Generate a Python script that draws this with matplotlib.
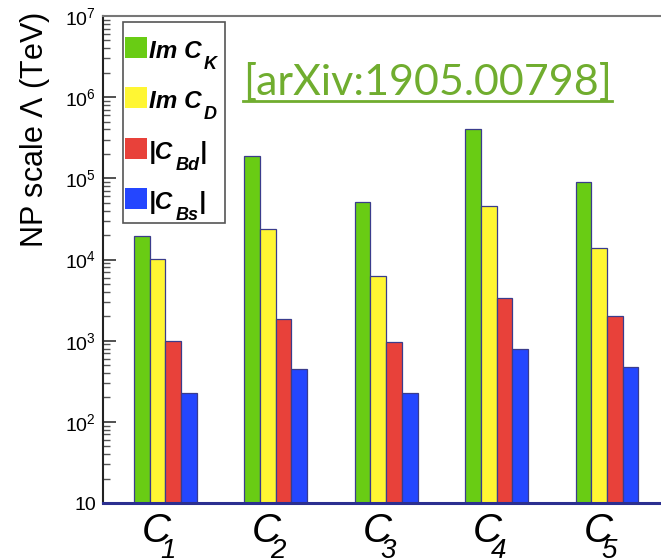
import matplotlib
matplotlib.use("Agg")
import matplotlib.pyplot as plt
import numpy as np
from matplotlib.patches import Rectangle
from matplotlib.lines import Line2D

plt.rcParams["font.family"] = ["Liberation Sans", "DejaVu Sans"]
plt.rcParams["mathtext.fontset"] = "custom"
plt.rcParams["mathtext.rm"] = "Liberation Sans"
plt.rcParams["mathtext.it"] = "Liberation Sans:italic"

# Operators and bounds on the new-physics scale (TeV)
operators = ["1", "2", "3", "4", "5"]
im_ck = [1.94e4, 1.89e5, 5.1e4, 4.0e5, 8.9e4]
im_cd = [1.02e4, 2.35e4, 6.2e3, 4.55e4, 1.37e4]
abs_cbd = [1.0e3, 1.85e3, 9.6e2, 3.4e3, 2.03e3]
abs_cbs = [2.24e2, 4.43e2, 2.28e2, 7.8e2, 4.73e2]

# legend labels: (main text, subscript, closing text)
series_labels = [("Im C", "K", ""), ("Im C", "D", ""),
                 ("|C", "Bd", "|"), ("|C", "Bs", "|")]
colors = ["#69cc14", "#fff633", "#e8413a", "#2446ff"]
edge = "#3a3c8c"

W, H = 661, 559
AX_L, AX_B, AX_W, AX_H = 103, 56, 565, 487   # axes box in pixels
fig = plt.figure(figsize=(W / 100, H / 100), dpi=100)
ax = fig.add_axes([AX_L / W, AX_B / H, AX_W / W, AX_H / H])


def px_to_axes(px, py):
    """Pixel position (from top-left) to axes fraction."""
    return (px - AX_L) / AX_W, (H - AX_B - py) / AX_H


x = np.arange(len(operators))
w = 0.142
series = [im_ck, im_cd, abs_cbd, abs_cbs]
for k, (vals, col) in enumerate(zip(series, colors)):
    ax.bar(x + (k - 1.5) * w, vals, width=w, color=col,
           edgecolor=edge, linewidth=0.9, bottom=0)

ax.set_yscale("log")
ax.set_ylim(10, 1e7)
ax.set_xlim(-0.565, 4.553)

# y axis ticks
majors = [10, 1e2, 1e3, 1e4, 1e5, 1e6, 1e7]
ax.set_yticks(majors)
ax.set_yticklabels(["10"] + [r"$10^{%d}$" % e for e in range(2, 8)])
ax.yaxis.set_minor_locator(matplotlib.ticker.LogLocator(base=10, subs=np.arange(2, 10)))
ax.yaxis.set_minor_formatter(matplotlib.ticker.NullFormatter())
ax.tick_params(axis="y", which="major", direction="in", length=9.5, width=1.2,
               color="#333333", labelsize=14, pad=5)
ax.tick_params(axis="y", which="minor", direction="in", length=5, width=1.0,
               color="#555555")

# x axis: italic C with a lowered italic index under each group
ax.set_xticks([])
for xi, op in zip(x, operators):
    c = ax.annotate("C", xy=(xi, 0), xycoords=ax.get_xaxis_transform(),
                    xytext=(-9, -39), textcoords="offset pixels",
                    ha="center", va="baseline", fontsize=29, style="italic",
                    annotation_clip=False)
    ax.annotate(op, xy=(1, 0), xycoords=(c, ax.get_xaxis_transform()),
                xytext=(-11, -55), textcoords="offset pixels", ha="left",
                va="baseline", fontsize=20, style="italic",
                annotation_clip=False)

ax.set_ylabel(r"NP scale $\Lambda$ (TeV)", fontsize=22, loc="top")
ax.yaxis.set_label_coords(-0.09, 1.007)

ax.spines["right"].set_visible(False)
ax.spines["left"].set_color("#222222")
ax.spines["left"].set_linewidth(1.5)
ax.spines["top"].set_color("#777777")
ax.spines["top"].set_linewidth(1.5)
ax.spines["bottom"].set_color("#2b2f90")
ax.spines["bottom"].set_linewidth(2.2)

# legend box with colour keys and labels
x0, y0 = px_to_axes(123, 223)
x1, y1 = px_to_axes(225, 22)
ax.add_patch(Rectangle((x0, y0), x1 - x0, y1 - y0, transform=ax.transAxes,
                       facecolor="white", edgecolor="#555555", linewidth=1.2,
                       zorder=5))
row_top, row_step = 37.0, 50.4
for k, (col, (main, sub, close)) in enumerate(zip(colors, series_labels)):
    top = row_top + k * row_step
    base = top + 21
    sx0, sy0 = px_to_axes(125, base)
    sx1, sy1 = px_to_axes(147, top)
    ax.add_patch(Rectangle((sx0, sy0), sx1 - sx0, sy1 - sy0,
                           transform=ax.transAxes, facecolor=col,
                           edgecolor="none", zorder=6))
    tx, ty = px_to_axes(149, base)
    t = ax.text(tx, ty, main, transform=ax.transAxes, ha="left",
                va="baseline", fontsize=17.5, weight="bold", style="italic",
                zorder=7)
    _, sub_y = px_to_axes(0, base + 11)
    s = ax.annotate(sub, xy=(1, sub_y), xycoords=(t, "axes fraction"),
                    xytext=(2, 0), textcoords="offset pixels", ha="left",
                    va="baseline", fontsize=13, weight="bold",
                    style="italic", zorder=7, annotation_clip=False)
    if close:
        ax.annotate(close, xy=(1, ty), xycoords=(s, "axes fraction"),
                    xytext=(0, 0), textcoords="offset pixels", ha="left",
                    va="baseline", fontsize=17.5, weight="bold",
                    style="italic", zorder=7, annotation_clip=False)

ref = fig.text(243 / W, 1 - 95 / H, "[arXiv:1905.00798]", fontsize=31,
               family="Lato", color="#70ad2f", ha="left", va="baseline")
fig.canvas.draw()
bb = ref.get_window_extent()
y_line = 1 - 101 / H
fig.add_artist(Line2D([bb.x0 / W, bb.x1 / W], [y_line, y_line],
                      transform=fig.transFigure, color="#70ad2f", linewidth=2))

fig.savefig("out.png", dpi=100)
